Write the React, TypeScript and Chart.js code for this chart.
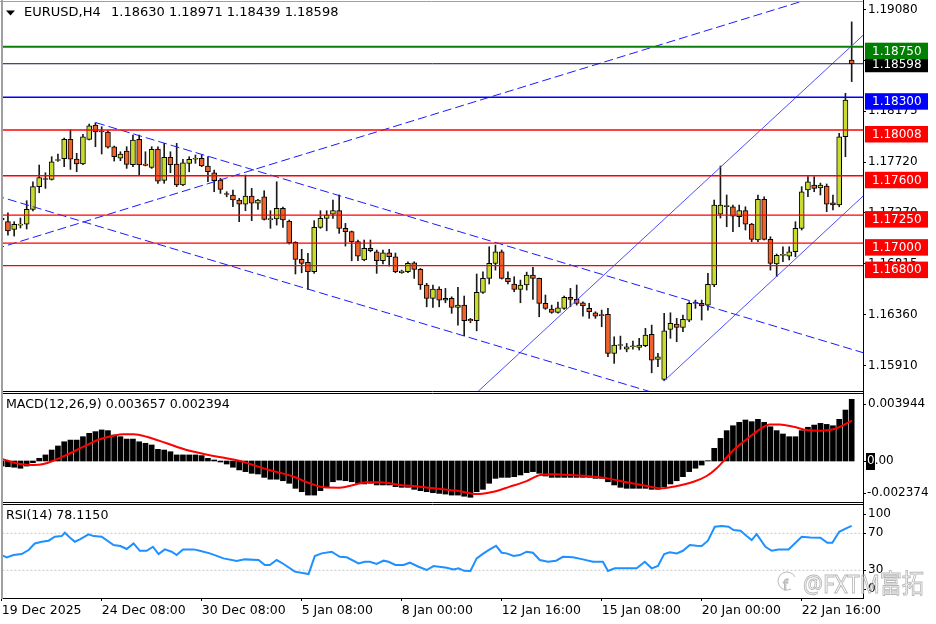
import React, { useEffect, useRef } from 'react';
import { Chart, registerables } from 'chart.js';
Chart.register(...registerables);

const FONT = '"DejaVu Sans", Verdana, sans-serif';

// ---------- price data (H4 bars, index 0..136) ----------
const opens = [1.17224,1.17191,1.17123,1.17161,1.17170,1.17301,1.17503,1.17576,1.17568,1.17736,1.17752,1.17925,1.17749,1.17705,1.17925,1.18052,1.17999,1.17990,1.17859,1.17758,1.17821,1.17699,1.17925,1.17705,1.17675,1.17838,1.17559,1.17764,1.17705,1.17518,1.17711,1.17747,1.17756,1.17687,1.17627,1.17562,1.17442,1.17429,1.17384,1.17348,1.17420,1.17355,1.17413,1.17210,1.17215,1.17310,1.17197,1.17007,1.16856,1.16829,1.16745,1.17141,1.17221,1.17259,1.17289,1.17132,1.17102,1.17013,1.16850,1.16954,1.16923,1.16843,1.16914,1.16879,1.16738,1.16745,1.16825,1.16766,1.16627,1.16508,1.16591,1.16508,1.16508,1.16427,1.16448,1.16321,1.16309,1.16562,1.16686,1.16820,1.16923,1.16686,1.16636,1.16588,1.16627,1.16716,1.16686,1.16464,1.16413,1.16383,1.16419,1.16517,1.16499,1.16469,1.16419,1.16380,1.16359,1.16366,1.16018,1.16088,1.16056,1.16077,1.16072,1.16086,1.16188,1.15964,1.15786,1.16232,1.16279,1.16250,1.16315,1.16464,1.16464,1.16448,1.16627,1.17259,1.17326,1.17324,1.17235,1.17289,1.17170,1.17028,1.17390,1.17034,1.16814,1.16891,1.16885,1.16923,1.17132,1.17473,1.17518,1.17491,1.17509,1.17360,1.17340,1.17948,1.18630];
const highs = [1.17384,1.17271,1.17191,1.17224,1.17378,1.17547,1.17696,1.17627,1.17770,1.17794,1.17936,1.18008,1.17800,1.17969,1.18061,1.18073,1.18037,1.18001,1.17865,1.17814,1.17859,1.17963,1.17963,1.17814,1.17859,1.17859,1.17889,1.17814,1.17889,1.17747,1.17770,1.17785,1.17785,1.17770,1.17651,1.17577,1.17458,1.17473,1.17399,1.17607,1.17488,1.17390,1.17467,1.17289,1.17547,1.17322,1.17206,1.17013,1.16945,1.16909,1.17200,1.17289,1.17289,1.17384,1.17429,1.17176,1.17108,1.17028,1.17028,1.17028,1.16939,1.16939,1.16945,1.16912,1.16760,1.16834,1.16834,1.16775,1.16642,1.16627,1.16611,1.16597,1.16522,1.16606,1.16529,1.16330,1.16725,1.16745,1.16968,1.16983,1.16939,1.16745,1.16701,1.16671,1.16742,1.16784,1.16689,1.16538,1.16448,1.16475,1.16529,1.16597,1.16627,1.16478,1.16464,1.16389,1.16404,1.16419,1.16166,1.16172,1.16107,1.16128,1.16152,1.16241,1.16270,1.16018,1.16375,1.16380,1.16330,1.16359,1.16478,1.16493,1.16493,1.16731,1.17384,1.17687,1.17429,1.17339,1.17339,1.17324,1.17176,1.17429,1.17413,1.17057,1.16903,1.16968,1.16968,1.17191,1.17503,1.17592,1.17592,1.17535,1.17527,1.17429,1.17978,1.18335,1.18971];
const lows = [1.17072,1.17072,1.17063,1.17135,1.17126,1.17286,1.17449,1.17488,1.17562,1.17729,1.17681,1.17657,1.17636,1.17700,1.17919,1.17859,1.17794,1.17847,1.17731,1.17734,1.17666,1.17681,1.17607,1.17688,1.17666,1.17533,1.17533,1.17627,1.17503,1.17511,1.17636,1.17711,1.17681,1.17547,1.17458,1.17443,1.17413,1.17324,1.17191,1.17289,1.17200,1.17301,1.17206,1.17132,1.17161,1.17141,1.16992,1.16725,1.16736,1.16588,1.16731,1.17132,1.17110,1.17221,1.17087,1.16974,1.16843,1.16843,1.16843,1.16923,1.16731,1.16814,1.16796,1.16736,1.16731,1.16736,1.16686,1.16588,1.16433,1.16427,1.16433,1.16469,1.16375,1.16270,1.16175,1.16291,1.16219,1.16553,1.16636,1.16760,1.16680,1.16636,1.16567,1.16469,1.16582,1.16499,1.16344,1.16410,1.16375,1.16377,1.16410,1.16433,1.16448,1.16350,1.16330,1.16330,1.16255,1.15988,1.15929,1.16054,1.16032,1.16056,1.16048,1.16077,1.15845,1.15899,1.15774,1.16152,1.16122,1.16211,1.16300,1.16419,1.16315,1.16404,1.16612,1.17224,1.17146,1.17102,1.17146,1.17117,1.17013,1.17013,1.17028,1.16760,1.16701,1.16834,1.16850,1.16879,1.17117,1.17413,1.17458,1.17429,1.17280,1.17295,1.17324,1.17770,1.18439];
const closes = [1.17206,1.17108,1.17168,1.17170,1.17301,1.17503,1.17583,1.17567,1.17725,1.17743,1.17925,1.17747,1.17705,1.17948,1.18046,1.17990,1.17990,1.17854,1.17770,1.17794,1.17702,1.17919,1.17696,1.17693,1.17836,1.17553,1.17764,1.17699,1.17518,1.17716,1.17747,1.17749,1.17687,1.17636,1.17556,1.17479,1.17433,1.17384,1.17348,1.17420,1.17355,1.17384,1.17212,1.17216,1.17310,1.17206,1.17004,1.16856,1.16820,1.16745,1.17141,1.17221,1.17250,1.17289,1.17132,1.17102,1.17013,1.16885,1.16954,1.16932,1.16843,1.16914,1.16879,1.16745,1.16751,1.16820,1.16766,1.16627,1.16508,1.16591,1.16493,1.16493,1.16427,1.16448,1.16309,1.16309,1.16562,1.16686,1.16820,1.16923,1.16686,1.16656,1.16588,1.16627,1.16716,1.16686,1.16464,1.16419,1.16383,1.16424,1.16517,1.16499,1.16464,1.16440,1.16389,1.16350,1.16355,1.16018,1.16092,1.16092,1.16077,1.16083,1.16092,1.16181,1.15958,1.15988,1.16220,1.16285,1.16250,1.16321,1.16464,1.16466,1.16440,1.16633,1.17340,1.17340,1.17335,1.17241,1.17289,1.17170,1.17034,1.17390,1.17034,1.16820,1.16891,1.16894,1.16923,1.17132,1.17458,1.17547,1.17488,1.17518,1.17348,1.17340,1.17948,1.18275,1.18598];

// ---------- MACD ----------
const macdHist = [-0.0003,-0.00034,-0.00037,-0.00043,-0.0003,-0.0001,0.00016,0.00036,0.00065,0.00089,0.00114,0.00124,0.00124,0.00144,0.00164,0.00174,0.00184,0.0018,0.00154,0.00144,0.0013,0.0013,0.00114,0.00105,0.00095,0.00069,0.00065,0.00055,0.00036,0.00036,0.00036,0.00036,0.00032,0.00016,0.00006,-0.00006,-0.00018,-0.00037,-0.00053,-0.00063,-0.00073,-0.00077,-0.00097,-0.00108,-0.00108,-0.00117,-0.00132,-0.00162,-0.00182,-0.00202,-0.00202,-0.00176,-0.00156,-0.00123,-0.00113,-0.00117,-0.00123,-0.00132,-0.00136,-0.00132,-0.00142,-0.00142,-0.00142,-0.00152,-0.00156,-0.00156,-0.00168,-0.00176,-0.00182,-0.00188,-0.00192,-0.00196,-0.00202,-0.00202,-0.00209,-0.00215,-0.00182,-0.00168,-0.00132,-0.00103,-0.00097,-0.00097,-0.00093,-0.00083,-0.00069,-0.00063,-0.00073,-0.00089,-0.00097,-0.00097,-0.00097,-0.00097,-0.00097,-0.00097,-0.00097,-0.00103,-0.00103,-0.00123,-0.00142,-0.00156,-0.00162,-0.00162,-0.00162,-0.00162,-0.00168,-0.00168,-0.00152,-0.00136,-0.00117,-0.00093,-0.00063,-0.00043,-0.00024,0.00002,0.00075,0.00134,0.0018,0.00209,0.00229,0.00243,0.00233,0.00247,0.00229,0.00203,0.0018,0.0016,0.00144,0.00144,0.0018,0.002,0.00213,0.00223,0.00217,0.00209,0.00247,0.00302,0.003657];
const signalX = [0,2.9,5.1,6.7,8.3,10.4,13.1,15.7,17.9,19.5,21.1,23.2,26.4,29.6,33.9,38.1,42.4,46.7,49.3,51.5,54.1,56.3,58.4,60.5,63.7,66.9,70.1,73.3,76,78.7,81.3,84,86.2,88.3,91,94.7,96.9,100,103.2,105.4,107.5,110.7,112.8,114.4,115.5,117.1,119.2,121.3,122.9,124.5,126.7,128.8,131,133.1,134.7,136];
const signalV = [0.00012,-0.00018,-0.00024,-0.00018,0.00002,0.00036,0.00085,0.00129,0.0015,0.00158,0.00158,0.00144,0.00105,0.00065,0.0003,0,-0.00049,-0.00093,-0.00132,-0.00156,-0.00158,-0.00142,-0.00126,-0.00126,-0.00142,-0.00152,-0.00166,-0.00179,-0.00196,-0.00182,-0.00152,-0.00119,-0.00083,-0.00079,-0.00083,-0.00093,-0.00103,-0.00126,-0.00148,-0.00162,-0.00152,-0.00123,-0.00089,-0.00043,0,0.00065,0.00129,0.00188,0.00217,0.00217,0.00203,0.00184,0.0018,0.00188,0.00213,0.002394];

// ---------- RSI ----------
const rsiX = [0,0.8,1.9,3.2,4.3,5.3,6.4,7.5,8.5,9.6,10.1,10.9,11.7,12.5,13.9,14.7,16,17.9,19,20,21.1,22.1,23.2,24.2,25.1,26.1,27.2,28,29,30.7,31.7,33.3,35.5,37.6,38.9,41.1,42.1,42.9,44,45.1,46.9,49.1,50.1,51.2,52.8,54.1,55.2,57.1,58.1,58.9,60,61.1,61.9,63,64.3,65.3,66.7,68,69.1,71.2,72.3,73.1,74,75,76,77.1,78.1,79.1,80,80.8,81.9,82.9,84,85,86.1,87.4,88.7,89.8,91.4,93,94.6,96.2,97,98.1,99.4,101.6,102.9,104,105,106,106.9,108,109,110.1,111.2,112,113,114.1,115.2,116.3,117.1,118.2,119.2,120,120.8,122.2,123.2,124.3,125.9,128,129.4,131,132.1,132.9,134,135.1,136];
const rsiV = [46.5,44,46.5,47.6,51.9,59,60.9,62,66.3,67,70.6,65.6,60.9,63.5,68.9,67,66.3,57.3,56.2,53,59.1,51.1,51.1,55.5,47.6,52.6,50.1,46.5,52.6,52.6,51.1,48.3,42.9,40,41.8,41.1,35.7,35.7,41.1,36.8,28.5,25.9,45.4,48.3,50.1,44.6,44,37.5,39.2,39.2,36.8,40.4,39.2,35.7,35.7,38.2,33.8,30.3,34.6,32.8,31,32.1,29.4,29.2,42.9,48.3,52.6,56.5,49,48.3,45.4,46.5,50.1,49,41.1,39.2,40.4,44.6,44,41.8,39.2,39.2,29.2,32.1,32.1,32.1,39.2,32.1,34.6,47.6,49.4,48.3,51.1,57.3,56.5,56.2,62,77.1,77.8,77.1,73.5,72.8,67,62.7,69.2,55.5,51.1,52.6,52.6,66.3,65.6,65.2,59.8,59.8,71.7,75.4,78.115];
const rsiLevels = [70, 30];

// ---------- axes ----------
const priceTicks = [1.1908, 1.18625, 1.18175, 1.1772, 1.1727, 1.16815, 1.1636, 1.1591];
const xTickIdx = [0, 16, 32, 48, 64, 80, 96, 112, 128];
const xTickLabels = ['19 Dec 2025', '24 Dec 08:00', '30 Dec 08:00', '5 Jan 08:00', '8 Jan 00:00', '12 Jan 16:00', '15 Jan 08:00', '20 Jan 00:00', '22 Jan 16:00'];

// ---------- horizontal levels ----------
const levelValues = [1.1875, 1.18598, 1.183, 1.18008, 1.176, 1.1725, 1.17, 1.168];
const levelColors = ['#0a800a', '#12124a', '#0000ff', '#ff0000', '#ff0000', '#ff0000', '#ff0000', '#ff0000'];
const levelBoxColors = ['#008000', '#000000', '#0000ff', '#ff0000', '#ff0000', '#ff0000', '#ff0000', '#ff0000'];

// ---------- trend / channel lines ----------
const trendX1 = [-1, 15.09, -1, 70, 106];
const trendY1 = [1.16948, 1.18073, 1.17425, 1.15359, 1.15774];
const trendX2 = [140, 140, 140, 140, 140];
const trendY2 = [1.19359, 1.15988, 1.15072, 1.18964, 1.17532];
const trendDashed = [true, true, true, false, false];

const BULL = '#cadb30';
const BEAR = '#f0622a';
const X_MIN = 0.05;
const X_MAX = 137.81;
const P_MIN = 1.15683;
const P_MAX = 1.19148;
const M_MIN = -0.002371;
const M_MAX = 0.003971;
const M_MAX_LABEL = '0.003944';
const M_MIN_LABEL = '-0.002374';

const xHidden: any = { type: 'linear', min: X_MIN, max: X_MAX, offset: false, display: false };

const fitRight = (s: any) => { s.width = 73; s.paddingTop = 0; s.paddingBottom = 0; };

function drawFrame(ctx: any, a: any, h: number, topGray: boolean, topLine: number | null, bottomLine: number | null) {
  ctx.save();
  ctx.strokeStyle = '#000';
  ctx.lineWidth = 1;
  if (topLine !== null) { ctx.beginPath(); ctx.moveTo(2, topLine); ctx.lineTo(a.right, topLine); ctx.stroke(); }
  if (bottomLine !== null) { ctx.beginPath(); ctx.moveTo(2, bottomLine); ctx.lineTo(a.right, bottomLine); ctx.stroke(); }
  ctx.beginPath(); ctx.moveTo(a.right + 0.5, 0); ctx.lineTo(a.right + 0.5, h); ctx.stroke();
  ctx.strokeStyle = '#a0a0a0';
  if (topGray) { ctx.beginPath(); ctx.moveTo(0, 1.5); ctx.lineTo(a.right, 1.5); ctx.stroke(); }
  ctx.lineWidth = 2;
  ctx.beginPath(); ctx.moveTo(2, 0); ctx.lineTo(2, h); ctx.stroke();
  ctx.restore();
}

const mainOverlay = {
  id: 'mainOverlay',
  afterDraw(chart: any) {
    const { ctx, chartArea: a, scales } = chart;
    drawFrame(ctx, a, chart.height, true, null, a.bottom + 0.5);
    ctx.save();
    ctx.fillStyle = '#000';
    ctx.beginPath(); ctx.moveTo(6, 10.5); ctx.lineTo(15, 10.5); ctx.lineTo(10.5, 15.5); ctx.closePath(); ctx.fill();
    ctx.font = `13px ${FONT}`;
    ctx.textBaseline = 'middle';
    ctx.textAlign = 'left';
    const n = opens.length - 1;
    ctx.fillText('EURUSD,H4', 24, 13);
    ctx.fillText(`${opens[n].toFixed(5)} ${highs[n].toFixed(5)} ${lows[n].toFixed(5)} ${closes[n].toFixed(5)}`, 111, 13);
    ctx.font = `12px ${FONT}`;
    const order = [1, 0, 2, 3, 4, 5, 6, 7];
    order.forEach((k) => {
      const py = scales.y.getPixelForValue(levelValues[k]);
      const bid = k === 1;
      const top = bid ? py - 7 : py - 4;
      const h = bid ? 15.5 : 16.5;
      ctx.fillStyle = levelBoxColors[k];
      ctx.fillRect(865, top, 63, h);
      ctx.fillStyle = '#fff';
      ctx.fillText(levelValues[k].toFixed(5), 872, top + h / 2 + 0.5);
    });
    ctx.restore();
  },
};

const macdOverlay = {
  id: 'macdOverlay',
  afterDraw(chart: any) {
    const { ctx, chartArea: a, scales } = chart;
    drawFrame(ctx, a, chart.height, false, a.top - 0.5, a.bottom + 1.5);
    ctx.save();
    ctx.fillStyle = '#000';
    ctx.textBaseline = 'middle';
    ctx.textAlign = 'left';
    ctx.font = `12.6px ${FONT}`;
    const n = macdHist.length - 1;
    ctx.fillText(`MACD(12,26,9) ${macdHist[n].toFixed(6)} ${signalV[signalV.length - 1].toFixed(6)}`, 6, a.top + 11);
    ctx.font = `12px ${FONT}`;
    const yTop = a.top + 10.3;
    const y0 = scales.y.getPixelForValue(0);
    const yBot = a.bottom - 7.7;
    ctx.strokeStyle = '#000';
    ctx.lineWidth = 1;
    [yTop, y0, yBot].forEach((yy) => { ctx.beginPath(); ctx.moveTo(a.right, Math.round(yy) + 0.5); ctx.lineTo(a.right + 3, Math.round(yy) + 0.5); ctx.stroke(); });
    ctx.fillText(M_MAX_LABEL, 868, yTop);
    ctx.fillText(M_MIN_LABEL, 867, yBot);
    ctx.fillRect(866, y0 - 8, 9, 17);
    ctx.fillStyle = '#fff';
    ctx.fillText('0', 867, y0);
    const w0 = ctx.measureText('0').width;
    ctx.fillStyle = '#000';
    ctx.fillText('.00', 867 + w0, y0);
    ctx.restore();
  },
};

const rsiOverlay = {
  id: 'rsiOverlay',
  afterDraw(chart: any) {
    const { ctx, chartArea: a, scales } = chart;
    drawFrame(ctx, a, a.bottom + 1, false, 1.5, null);
    ctx.save();
    ctx.fillStyle = '#000';
    ctx.textBaseline = 'middle';
    ctx.textAlign = 'left';
    ctx.font = `12.6px ${FONT}`;
    ctx.fillText(`RSI(14) ${rsiV[rsiV.length - 1].toFixed(4)}`, 6, a.top + 10.4);
    ctx.font = `12px ${FONT}`;
    const labels: [string, number][] = [
      ['100', a.top + 8.7],
      ['70', scales.y.getPixelForValue(70)],
      ['30', scales.y.getPixelForValue(30)],
      ['0', a.bottom - 9],
    ];
    ctx.strokeStyle = '#000';
    ctx.lineWidth = 1;
    labels.forEach(([t, yy]) => {
      ctx.beginPath(); ctx.moveTo(a.right, Math.round(yy) + 0.5); ctx.lineTo(a.right + 3, Math.round(yy) + 0.5); ctx.stroke();
      ctx.fillText(t, 868, yy);
    });
    ctx.strokeStyle = '#b8b8b8';
    ctx.lineWidth = 1;
    ctx.beginPath();
    ctx.arc(787, a.bottom - 17, 9, 0.35 * Math.PI, 1.85 * Math.PI);
    ctx.stroke();
    ctx.font = `14px ${FONT}`;
    ctx.strokeText('f', 783, a.bottom - 12);
    ctx.font = `26px "Noto Sans", "Noto Sans CJK SC", sans-serif`;
    ctx.textBaseline = 'alphabetic';
    ctx.strokeText('@FXTM富拓', 803, a.bottom - 5.5, 121);
    ctx.restore();
  },
};

function mainConfig(): any {
  const lineBase = { type: 'line', pointRadius: 0, fill: false, clip: 0, tension: 0 };
  const levelSets = levelValues.map((v, k) => ({
    ...lineBase,
    order: 1,
    data: [{ x: -5, y: v }, { x: 145, y: v }],
    borderColor: levelColors[k],
    borderWidth: k === 0 ? 2 : k === 1 ? 1 : 1.4,
  }));
  const trendSets = trendX1.map((x1, k) => ({
    ...lineBase,
    order: 2,
    data: [{ x: x1, y: trendY1[k] }, { x: trendX2[k], y: trendY2[k] }],
    borderColor: trendDashed[k] ? '#1a1aff' : '#4f4fff',
    borderWidth: 1,
    borderDash: trendDashed[k] ? [9, 4] : [],
  }));
  return {
    type: 'bar',
    data: {
      datasets: [
        ...levelSets,
        ...trendSets,
        {
          type: 'bar',
          order: 3,
          data: opens.map((o, i) => ({ x: i, y: [o, closes[i]] })),
          backgroundColor: opens.map((o, i) => (closes[i] >= o ? BULL : BEAR)),
          borderColor: '#000',
          borderWidth: 1,
          borderSkipped: false,
          barThickness: 5,
          minBarLength: 1,
          grouped: false,
        },
        {
          type: 'bar',
          order: 4,
          data: highs.map((h, i) => ({ x: i, y: [lows[i], h] })),
          backgroundColor: '#1a1a1a',
          barThickness: 1,
          grouped: false,
        },
      ],
    },
    options: {
      animation: false,
      responsive: false,
      maintainAspectRatio: false,
      events: [],
      layout: { padding: { top: 2, left: 2, right: 0, bottom: 2 } },
      plugins: { legend: { display: false }, tooltip: { enabled: false } },
      scales: {
        x: xHidden,
        y: {
          position: 'right',
          min: P_MIN,
          max: P_MAX,
          afterFit: fitRight,
          afterBuildTicks: (s: any) => { s.ticks = priceTicks.map((v) => ({ value: v })); },
          ticks: {
            callback: (v: any) => Number(v).toFixed(5),
            font: { family: FONT, size: 12 },
            color: '#000',
            padding: 2,
            autoSkip: false,
          },
          grid: { drawOnChartArea: false, drawTicks: true, tickLength: 3, color: '#000', tickColor: '#000' },
          border: { display: true, color: '#000' },
        },
      },
    },
    plugins: [mainOverlay],
  };
}

function macdConfig(): any {
  return {
    type: 'bar',
    data: {
      datasets: [
        {
          type: 'line',
          order: 1,
          data: signalX.map((x, k) => ({ x, y: signalV[k] })),
          borderColor: '#ff0000',
          borderWidth: 2,
          pointRadius: 0,
          fill: false,
          tension: 0.4,
          cubicInterpolationMode: 'monotone',
          clip: 0,
        },
        {
          type: 'bar',
          order: 2,
          data: macdHist.map((v, i) => ({ x: i, y: v })),
          backgroundColor: '#000',
          barThickness: 5,
          grouped: false,
        },
      ],
    },
    options: {
      animation: false,
      responsive: false,
      maintainAspectRatio: false,
      events: [],
      layout: { padding: { top: 2, left: 2, right: 0, bottom: 2 } },
      plugins: { legend: { display: false }, tooltip: { enabled: false } },
      scales: {
        x: xHidden,
        y: {
          position: 'right',
          min: M_MIN,
          max: M_MAX,
          afterFit: fitRight,
          ticks: { display: false },
          grid: { display: false },
          border: { display: true, color: '#000' },
        },
      },
    },
    plugins: [macdOverlay],
  };
}

function rsiConfig(): any {
  return {
    type: 'line',
    data: {
      datasets: [
        {
          order: 1,
          data: rsiX.map((x, k) => ({ x, y: rsiV[k] })),
          borderColor: '#1e90ff',
          borderWidth: 2,
          pointRadius: 0,
          fill: false,
          tension: 0,
          clip: 0,
        },
        ...rsiLevels.map((lv) => ({
          order: 2,
          data: [{ x: -5, y: lv }, { x: 145, y: lv }],
          borderColor: '#c4c4c4',
          borderWidth: 1,
          borderDash: [2, 2],
          pointRadius: 0,
          fill: false,
          clip: 0,
        })),
      ],
    },
    options: {
      animation: false,
      responsive: false,
      maintainAspectRatio: false,
      events: [],
      layout: { padding: { top: 2.6, left: 2, right: 0, bottom: 0 } },
      plugins: { legend: { display: false }, tooltip: { enabled: false } },
      scales: {
        x: {
          type: 'linear',
          min: X_MIN,
          max: X_MAX,
          offset: false,
          position: 'bottom',
          afterFit: (s: any) => { s.height = 26; s.paddingLeft = 0; },
          afterBuildTicks: (s: any) => { s.ticks = xTickIdx.map((v) => ({ value: v })); },
          ticks: {
            callback: (v: any) => { const k = xTickIdx.indexOf(Number(v)); return k >= 0 ? xTickLabels[k] : ''; },
            align: 'start',
            autoSkip: false,
            maxRotation: 0,
            minRotation: 0,
            padding: 2,
            color: '#000',
            font: { family: FONT, size: 12.5 },
          },
          grid: { display: true, drawOnChartArea: false, drawTicks: true, tickLength: 3, color: '#000', tickColor: '#000' },
          border: { display: true, color: '#000' },
        },
        y: {
          position: 'right',
          min: 0,
          max: 100,
          afterFit: fitRight,
          ticks: { display: false },
          grid: { display: false },
          border: { display: true, color: '#000' },
        },
      },
    },
    plugins: [rsiOverlay],
  };
}

export default function App() {
  const mainRef = useRef<HTMLCanvasElement>(null);
  const macdRef = useRef<HTMLCanvasElement>(null);
  const rsiRef = useRef<HTMLCanvasElement>(null);
  useEffect(() => {
    const charts = [
      new Chart(mainRef.current as HTMLCanvasElement, mainConfig()),
      new Chart(macdRef.current as HTMLCanvasElement, macdConfig()),
      new Chart(rsiRef.current as HTMLCanvasElement, rsiConfig()),
    ];
    return () => charts.forEach((c) => c.destroy());
  }, []);
  return (
    <div style={{ position: 'absolute', left: 0, top: 0, width: 936, height: 624, background: '#fff', overflow: 'hidden' }}>
      <canvas ref={mainRef} width={936} height={393} style={{ position: 'absolute', left: 0, top: 0, width: 936, height: 393 }} />
      <canvas ref={macdRef} width={936} height={111} style={{ position: 'absolute', left: 0, top: 392, width: 936, height: 111 }} />
      <canvas ref={rsiRef} width={936} height={121} style={{ position: 'absolute', left: 0, top: 503, width: 936, height: 121 }} />
    </div>
  );
}
